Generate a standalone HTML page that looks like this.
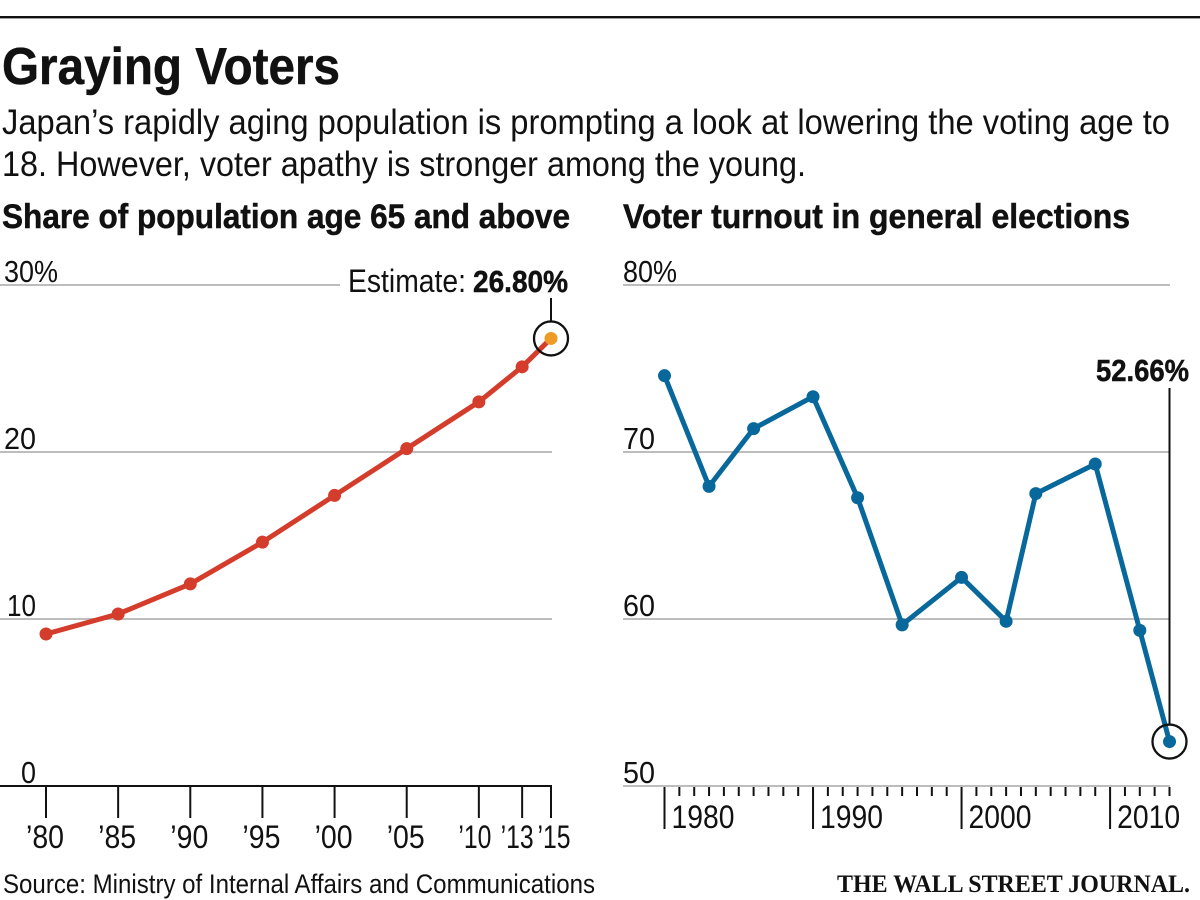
<!DOCTYPE html>
<html>
<head>
<meta charset="utf-8">
<title>Graying Voters</title>
<style>
html,body{margin:0;padding:0;background:#fff;}
svg{display:block;}
text{font-family:"Liberation Sans",sans-serif;fill:#111;}
.b{font-weight:bold;stroke:#111;stroke-width:0.5px;}
</style>
</head>
<body>
<svg id="chart" width="1200" height="900" viewBox="0 0 1200 900" xmlns="http://www.w3.org/2000/svg">
<rect x="0" y="0" width="1200" height="900" fill="#ffffff"/>
<rect x="0" y="16" width="1200" height="2.4" fill="#111"/>
<text class="b" x="2" y="84" font-size="52" textLength="338" lengthAdjust="spacingAndGlyphs">Graying Voters</text>
<text x="2" y="134" font-size="35" textLength="1168" lengthAdjust="spacingAndGlyphs">Japan’s rapidly aging population is prompting a look at lowering the voting age to</text>
<text x="2" y="176" font-size="35" textLength="804" lengthAdjust="spacingAndGlyphs">18. However, voter apathy is stronger among the young.</text>
<text class="b" x="2" y="228" font-size="34" textLength="568" lengthAdjust="spacingAndGlyphs">Share of population age 65 and above</text>
<text class="b" x="623" y="228" font-size="34" textLength="507" lengthAdjust="spacingAndGlyphs">Voter turnout in general elections</text>
<g id="left-chart"></g>
<g id="right-chart"></g>
<text x="3" y="893" font-size="27" textLength="592" lengthAdjust="spacingAndGlyphs">Source: Ministry of Internal Affairs and Communications</text>
<text x="837" y="892" font-size="25" font-weight="bold" style="font-family:'Liberation Serif',serif" textLength="353" lengthAdjust="spacingAndGlyphs">THE WALL STREET JOURNAL.</text>
</svg>
<script>
const shareYears = [1980, 1985, 1990, 1995, 2000, 2005, 2010, 2013, 2015];
const shareValues = [9.1, 10.3, 12.1, 14.6, 17.4, 20.2, 23.0, 25.1, 26.8];
const shareXLabels = ["’80", "’85", "’90", "’95", "’00", "’05", "’10", "’13", "’15"];
const shareYTicks = [0, 10, 20, 30];
const shareYLabels = ["0", "10", "20", "30%"];
const shareCallout = "26.80%";
const turnoutYears = [1980, 1983, 1986, 1990, 1993, 1996, 2000, 2003, 2005, 2009, 2012, 2014];
const turnoutValues = [74.57, 67.94, 71.40, 73.31, 67.26, 59.65, 62.49, 59.86, 67.51, 69.28, 59.32, 52.66];
const turnoutYTicks = [50, 60, 70, 80];
const turnoutYLabels = ["50", "60", "70", "80%"];
const turnoutMajorYears = [1980, 1990, 2000, 2010];
const turnoutMinorYears = [1981, 1982, 1983, 1984, 1985, 1986, 1987, 1988, 1989, 1991, 1992, 1993, 1994, 1995, 1996, 1997, 1998, 1999, 2001, 2002, 2003, 2004, 2005, 2006, 2007, 2008, 2009, 2011, 2012, 2013, 2014];
const turnoutCallout = "52.66%";

const NS = 'http://www.w3.org/2000/svg';
function make(parent, tag, attrs, txt) {
  const el = document.createElementNS(NS, tag);
  for (const k in attrs) el.setAttribute(k, attrs[k]);
  if (txt !== undefined) el.textContent = txt;
  parent.appendChild(el);
  return el;
}
const shareX = y => 46 + (y - 1980) * (551 - 46) / 35;
const shareY = v => 786 - v * 16.7;
const turnoutX = y => 664.5 + (y - 1980) * (1169.5 - 664.5) / 34;
const turnoutY = v => 786 - (v - 50) * 16.7;

const L = document.getElementById('left-chart');
const R = document.getElementById('right-chart');

/* left chart */
shareYTicks.forEach((t, i) => {
  if (t !== 0) {
    const g = make(L, 'line', {x1: 0, x2: t === 30 ? 340 : 552, y1: shareY(t), y2: shareY(t), stroke: '#bdbdbd', 'stroke-width': 2});
    
    
  }
  const wide = shareYLabels[i].length === 3;
  const lab = make(L, 'text', {x: wide ? 4 : 36, y: shareY(t) - (wide ? 3 : 3), 'font-size': 31, 'text-anchor': wide ? 'start' : 'end', textLength: wide ? 54 : (t === 0 ? 15 : (t === 10 ? 29 : 32)), lengthAdjust: 'spacingAndGlyphs'}, shareYLabels[i]);
  
  
});
const lAxis = make(L, 'line', {x1: 0, x2: 552, y1: 786, y2: 786, stroke: '#111', 'stroke-width': 2});


shareYears.forEach((y, i) => {
  const t = make(L, 'line', {x1: shareX(y), x2: shareX(y), y1: 786, y2: 818, stroke: '#111', 'stroke-width': 2});
  
  
  const shift = y === 2010 ? -4 : y === 2013 ? -5 : y === 2015 ? 3 : -1;
  const lab = make(L, 'text', {x: shareX(y) + shift, y: 848, 'font-size': 32, 'text-anchor': 'middle', textLength: y >= 2010 ? 33 : 38, lengthAdjust: 'spacingAndGlyphs'}, shareXLabels[i]);
  
  
});
const sharePts = shareYears.map((y, i) => shareX(y) + ',' + shareY(shareValues[i])).join(' ');
const sLine = make(L, 'polyline', {points: sharePts, fill: 'none', stroke: '#d43d2c', 'stroke-width': 5, 'stroke-linejoin': 'round'});


shareYears.forEach((y, i) => {
  const last = i === shareYears.length - 1;
  const p = make(L, 'circle', {cx: shareX(y), cy: shareY(shareValues[i]), r: 6.5, fill: last ? '#ee9b25' : '#d43d2c'});
  
  
});
const lastShareX = shareX(shareYears[shareYears.length - 1]);
const lastShareY = shareY(shareValues[shareValues.length - 1]);
const sRing = make(L, 'circle', {cx: lastShareX, cy: lastShareY, r: 17, fill: 'none', stroke: '#111', 'stroke-width': 2.3});


const sLead = make(L, 'line', {x1: lastShareX, x2: lastShareX, y1: 298, y2: lastShareY - 17, stroke: '#111', 'stroke-width': 2});


const estA = make(L, 'text', {x: 348, y: 292, 'font-size': 32, textLength: 118, lengthAdjust: 'spacingAndGlyphs'}, 'Estimate:');


const estB = make(L, 'text', {x: 473, y: 292, 'font-size': 31, class: 'b', textLength: 95, lengthAdjust: 'spacingAndGlyphs'}, shareCallout);



/* right chart */
turnoutYTicks.forEach((t, i) => {
  const g = make(R, 'line', {x1: 623, x2: 1170, y1: turnoutY(t), y2: turnoutY(t), stroke: '#bdbdbd', 'stroke-width': 2});
  
  
  const wide = turnoutYLabels[i].length === 3;
  const lab = make(R, 'text', {x: 623, y: turnoutY(t) - 3, 'font-size': 31, textLength: wide ? 54 : 32, lengthAdjust: 'spacingAndGlyphs'}, turnoutYLabels[i]);
  
  
});
turnoutMinorYears.forEach(y => {
  const t = make(R, 'line', {x1: turnoutX(y), x2: turnoutX(y), y1: 787, y2: 796, stroke: '#111', 'stroke-width': 2});
  
  
});
turnoutMajorYears.forEach(y => {
  const t = make(R, 'line', {x1: turnoutX(y), x2: turnoutX(y), y1: 787, y2: 829, stroke: '#111', 'stroke-width': 2});
  
  
  const lab = make(R, 'text', {x: turnoutX(y) + 7, y: 828, 'font-size': 32, textLength: 63, lengthAdjust: 'spacingAndGlyphs'}, String(y));
  
  
});
const lastTurnX = turnoutX(turnoutYears[turnoutYears.length - 1]);
const lastTurnY = turnoutY(turnoutValues[turnoutValues.length - 1]);
const tLead = make(R, 'line', {x1: lastTurnX, x2: lastTurnX, y1: 388, y2: lastTurnY - 17, stroke: '#111', 'stroke-width': 2});


const turnPts = turnoutYears.map((y, i) => turnoutX(y) + ',' + turnoutY(turnoutValues[i])).join(' ');
const tLine = make(R, 'polyline', {points: turnPts, fill: 'none', stroke: '#08689c', 'stroke-width': 5, 'stroke-linejoin': 'round'});


turnoutYears.forEach((y, i) => {
  const p = make(R, 'circle', {cx: turnoutX(y), cy: turnoutY(turnoutValues[i]), r: 6.5, fill: '#08689c'});
  
  
});
const tRing = make(R, 'circle', {cx: lastTurnX, cy: lastTurnY, r: 17, fill: 'none', stroke: '#111', 'stroke-width': 2.3});


const tVal = make(R, 'text', {x: 1096, y: 381, 'font-size': 31, class: 'b', textLength: 93, lengthAdjust: 'spacingAndGlyphs'}, turnoutCallout);


</script>
</body>
</html>
